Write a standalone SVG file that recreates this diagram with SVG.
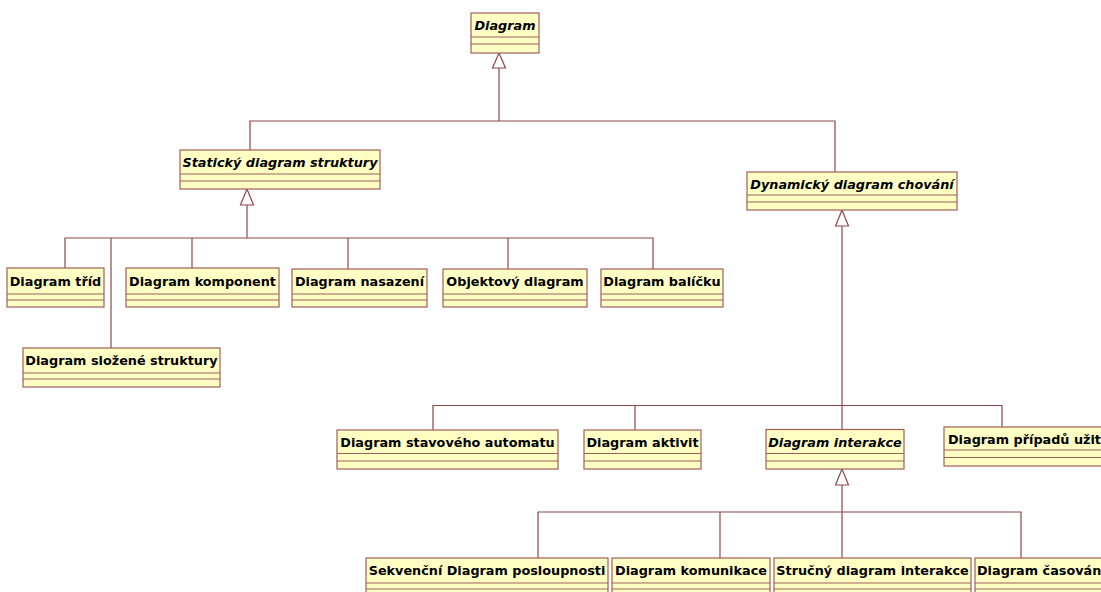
<svg xmlns="http://www.w3.org/2000/svg" width="1101" height="592" viewBox="0 0 1101 592">
  <style>
    .box { fill: #FFFFC4; stroke: #A05E5A; stroke-width: 1.2; }
    .sep { stroke: #A05E5A; stroke-width: 1.2; fill: none; }
    .name { font-family: "DejaVu Sans", Verdana, sans-serif; font-weight: bold; font-size: 12.8px; fill: #000; }
    .abstract { font-style: italic; }
    .mid { text-anchor: middle; }
    .edge { stroke: #8C4848; stroke-width: 1.2; fill: none; }
    .gen { fill: #FFFFFF; stroke: #8C4848; stroke-width: 1.2; }
  </style>
  <rect width="1101" height="592" fill="#FFFFFF"/>

  <!-- generalization connectors -->
  <g id="connectors">
    <!-- Diagram -> static / dynamic -->
    <polyline class="edge" points="499,68 499,121"/>
    <polyline class="edge" points="250,150 250,121 835,121 835,172"/>
    <polygon class="gen" points="499,53 492.5,68 505.5,68"/>

    <!-- static structure children -->
    <polyline class="edge" points="247,205 247,238"/>
    <polyline class="edge" points="65,268 65,238 653,238 653,269"/>
    <line class="edge" x1="111" y1="238" x2="111" y2="348"/>
    <line class="edge" x1="192" y1="238" x2="192" y2="268"/>
    <line class="edge" x1="348" y1="238" x2="348" y2="269"/>
    <line class="edge" x1="508" y1="238" x2="508" y2="269"/>
    <polygon class="gen" points="247,189 240.5,205 253.5,205"/>

    <!-- behaviour children -->
    <polyline class="edge" points="842,226 842,405.5"/>
    <polyline class="edge" points="433,430 433,405.5 1002,405.5 1002,427"/>
    <line class="edge" x1="635" y1="405.5" x2="635" y2="430"/>
    <line class="edge" x1="842" y1="405.5" x2="842" y2="429.5"/>
    <polygon class="gen" points="842,210 835.5,226 848.5,226"/>

    <!-- interaction children -->
    <polyline class="edge" points="842,485 842,558"/>
    <polyline class="edge" points="538,558 538,512 1021,512 1021,558"/>
    <line class="edge" x1="720" y1="512" x2="720" y2="558"/>
    <polygon class="gen" points="842,469 835.5,485 848.5,485"/>
  </g>

  <!-- classes -->
  <g id="diagram">
    <rect class="box" x="471" y="13" width="68" height="40"/>
    <path class="sep" d="M471,37H539M471,44H539"/>
    <text class="name abstract mid" x="505" y="30">Diagram</text>
  </g>

  <g id="staticky">
    <rect class="box" x="180" y="150" width="200" height="39"/>
    <path class="sep" d="M180,174H380M180,181H380"/>
    <text class="name abstract mid" x="280" y="167">Statický diagram struktury</text>
  </g>

  <g id="dynamicky">
    <rect class="box" x="747" y="172" width="210" height="38"/>
    <path class="sep" d="M747,195H957M747,202H957"/>
    <text class="name abstract mid" x="852" y="189">Dynamický diagram chování</text>
  </g>

  <g id="diagram-trid">
    <rect class="box" x="7" y="268" width="97" height="39"/>
    <path class="sep" d="M7,294H104M7,300H104"/>
    <text class="name mid" x="55.5" y="286">Diagram tříd</text>
  </g>

  <g id="diagram-komponent">
    <rect class="box" x="126" y="268" width="153" height="39"/>
    <path class="sep" d="M126,294H279M126,300H279"/>
    <text class="name mid" x="202.5" y="286">Diagram komponent</text>
  </g>

  <g id="diagram-nasazeni">
    <rect class="box" x="292" y="269" width="135" height="38"/>
    <path class="sep" d="M292,294H427M292,300H427"/>
    <text class="name mid" x="359.5" y="286">Diagram nasazení</text>
  </g>

  <g id="objektovy-diagram">
    <rect class="box" x="443" y="269" width="144" height="38"/>
    <path class="sep" d="M443,294H587M443,300H587"/>
    <text class="name mid" x="515" y="286">Objektový diagram</text>
  </g>

  <g id="diagram-balicku">
    <rect class="box" x="601" y="269" width="122" height="38"/>
    <path class="sep" d="M601,294H723M601,300H723"/>
    <text class="name mid" x="662" y="286">Diagram balíčku</text>
  </g>

  <g id="diagram-slozene-struktury">
    <rect class="box" x="23" y="348" width="197" height="39"/>
    <path class="sep" d="M23,373H220M23,379H220"/>
    <text class="name mid" x="121.5" y="365">Diagram složené struktury</text>
  </g>

  <g id="diagram-stavoveho-automatu">
    <rect class="box" x="337" y="430" width="221" height="39"/>
    <path class="sep" d="M337,453.5H558M337,461H558"/>
    <text class="name mid" x="447.5" y="447">Diagram stavového automatu</text>
  </g>

  <g id="diagram-aktivit">
    <rect class="box" x="584" y="430" width="117" height="39"/>
    <path class="sep" d="M584,453.5H701M584,461H701"/>
    <text class="name mid" x="642.5" y="447">Diagram aktivit</text>
  </g>

  <g id="diagram-interakce">
    <rect class="box" x="766" y="429.5" width="138" height="39.5"/>
    <path class="sep" d="M766,453.5H904M766,461H904"/>
    <text class="name abstract mid" x="835" y="447">Diagram interakce</text>
  </g>

  <g id="diagram-pripadu-uziti">
    <rect class="box" x="944" y="427" width="170" height="39"/>
    <path class="sep" d="M944,450H1114M944,457.5H1114"/>
    <text class="name" x="948" y="444">Diagram případů užit</text>
  </g>

  <g id="sekvencni-diagram">
    <rect class="box" x="366" y="558" width="242" height="40"/>
    <path class="sep" d="M366,583H608M366,589H608"/>
    <text class="name mid" x="487" y="575">Sekvenční Diagram posloupnosti</text>
  </g>

  <g id="diagram-komunikace">
    <rect class="box" x="612" y="558" width="158" height="40"/>
    <path class="sep" d="M612,583H770M612,589H770"/>
    <text class="name mid" x="691" y="575">Diagram komunikace</text>
  </g>

  <g id="strucny-diagram-interakce">
    <rect class="box" x="774" y="558" width="197" height="40"/>
    <path class="sep" d="M774,583H971M774,589H971"/>
    <text class="name mid" x="872.5" y="575">Stručný diagram interakce</text>
  </g>

  <g id="diagram-casovani">
    <rect class="box" x="975" y="558" width="140" height="40"/>
    <path class="sep" d="M975,583H1115M975,589H1115"/>
    <text class="name" x="977" y="575" font-size="12.6px">Diagram časován</text>
  </g>
</svg>
